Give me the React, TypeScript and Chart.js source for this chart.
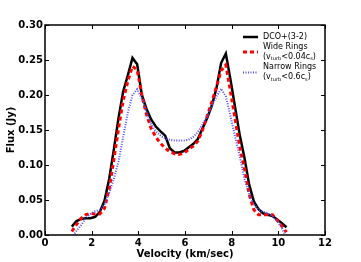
import React, { useEffect, useRef } from "react";
import { Chart, registerables } from "chart.js";

Chart.register(...registerables);

const velocity = [
  1.15, 1.35, 1.55, 1.75, 1.95, 2.15, 2.35, 2.55, 2.75, 2.95, 3.15, 3.35, 3.55, 3.75, 3.95, 4.15,
  4.35, 4.55, 4.75, 4.95, 5.15, 5.35, 5.55, 5.75, 5.95, 6.15, 6.35, 6.55, 6.75, 6.95, 7.15, 7.35,
  7.55, 7.75, 7.95, 8.15, 8.35, 8.55, 8.75, 8.95, 9.15, 9.35, 9.55, 9.75, 9.95, 10.15, 10.35,
];

const dcoFlux = [
  0.012, 0.02, 0.023, 0.024, 0.024, 0.026, 0.033, 0.049, 0.08, 0.122, 0.167, 0.205, 0.228, 0.253, 0.244, 0.2,
  0.18, 0.165, 0.155, 0.148, 0.142, 0.124, 0.118, 0.118, 0.12, 0.125, 0.13, 0.137, 0.152, 0.167, 0.185, 0.21,
  0.246, 0.259, 0.222, 0.182, 0.142, 0.11, 0.072, 0.048, 0.037, 0.031, 0.029, 0.027, 0.022, 0.017, 0.011,
];

const wideFlux = [
  0.005, 0.015, 0.024, 0.029, 0.031, 0.03, 0.03, 0.038, 0.066, 0.108, 0.152, 0.192, 0.22, 0.241, 0.236, 0.2,
  0.172, 0.152, 0.14, 0.131, 0.124, 0.119, 0.116, 0.115, 0.117, 0.122, 0.127, 0.134, 0.15, 0.17, 0.19, 0.212,
  0.235, 0.243, 0.205, 0.165, 0.125, 0.095, 0.058, 0.036, 0.029, 0.029, 0.029, 0.029, 0.021, 0.013, 0.004,
];

const narrowFlux = [
  -0.004, 0.006, 0.014, 0.024, 0.03, 0.034, 0.036, 0.044, 0.06, 0.08, 0.105, 0.14, 0.175, 0.2, 0.208, 0.195,
  0.175, 0.158, 0.148, 0.142, 0.138, 0.136, 0.135, 0.135, 0.135, 0.136, 0.14, 0.147, 0.158, 0.17, 0.185, 0.198,
  0.209, 0.198, 0.17, 0.14, 0.112, 0.08, 0.058, 0.044, 0.036, 0.033, 0.031, 0.027, 0.02, 0.01, -0.004,
];

const xTicks = [0, 2, 4, 6, 8, 10, 12];
const yTicks = [0, 0.05, 0.1, 0.15, 0.2, 0.25, 0.3];

const FONT = "'DejaVu Sans', sans-serif";

type Part = [string, boolean];

function drawRich(ctx: CanvasRenderingContext2D, parts: Part[], x: number, y: number) {
  let cx = x;
  for (const [text, sub] of parts) {
    ctx.font = sub ? `5px ${FONT}` : `8px ${FONT}`;
    ctx.fillText(text, cx, sub ? y + 2.5 : y);
    cx += ctx.measureText(text).width;
  }
}

const framePlugin = {
  id: "frame",
  afterDatasetsDraw(chart: any) {
    const { ctx, chartArea, scales } = chart;
    const { left, right, top, bottom } = chartArea;
    const xs = scales.x;
    const ys = scales.y;
    ctx.save();
    ctx.strokeStyle = "#000";
    ctx.lineWidth = 1.5;
    ctx.strokeRect(left, top, right - left, bottom - top);
    ctx.lineWidth = 1;
    ctx.beginPath();
    for (const v of xTicks) {
      const px = Math.round(xs.getPixelForValue(v)) + 0.5;
      ctx.moveTo(px, bottom);
      ctx.lineTo(px, bottom - 4);
      ctx.moveTo(px, top);
      ctx.lineTo(px, top + 4);
    }
    for (const v of yTicks) {
      const py = Math.round(ys.getPixelForValue(v)) + 0.5;
      ctx.moveTo(left, py);
      ctx.lineTo(left + 4, py);
      ctx.moveTo(right, py);
      ctx.lineTo(right - 4, py);
    }
    ctx.stroke();

    // legend
    const lx0 = right - 82;
    const lx1 = lx0 + 15;
    const tx = lx1 + 5;
    const ly = top + 12;
    ctx.textBaseline = "middle";
    ctx.fillStyle = "#000";

    ctx.lineCap = "butt";
    ctx.strokeStyle = "#000";
    ctx.lineWidth = 2.5;
    ctx.setLineDash([]);
    ctx.beginPath();
    ctx.moveTo(lx0, ly);
    ctx.lineTo(lx1, ly);
    ctx.stroke();
    drawRich(ctx, [["DCO+(3-2)", false]], tx, ly);

    ctx.strokeStyle = "#ff0000";
    ctx.lineWidth = 3;
    ctx.setLineDash([4, 3]);
    ctx.beginPath();
    ctx.moveTo(lx0, ly + 15);
    ctx.lineTo(lx1, ly + 15);
    ctx.stroke();
    drawRich(ctx, [["Wide Rings", false]], tx, ly + 9.5);
    drawRich(ctx, [["(v", false], ["turb", true], ["<0.04c", false], ["s", true], [")", false]], tx, ly + 19.5);

    ctx.strokeStyle = "#4d4dff";
    ctx.lineWidth = 2;
    ctx.setLineDash([1, 1.5]);
    ctx.beginPath();
    ctx.moveTo(lx0, ly + 35.5);
    ctx.lineTo(lx1, ly + 35.5);
    ctx.stroke();
    drawRich(ctx, [["Narrow Rings", false]], tx, ly + 30);
    drawRich(ctx, [["(v", false], ["turb", true], ["<0.6c", false], ["s", true], [")", false]], tx, ly + 40);
    ctx.restore();
  },
};

export default function App() {
  const ref = useRef<HTMLCanvasElement | null>(null);

  useEffect(() => {
    if (!ref.current) return;
    const mk = (arr: number[]) => velocity.map((v, i) => ({ x: v, y: arr[i] }));
    const tickFont = { family: FONT, weight: "bold" as const, size: 10 };
    const chart = new Chart(ref.current, {
      type: "line",
      data: {
        datasets: [
          {
            label: "Narrow Rings",
            data: mk(narrowFlux),
            borderColor: "#4d4dff",
            borderWidth: 2,
            borderDash: [1, 1.5],
            pointRadius: 0,
            tension: 0,
            clip: 0,
          },
          {
            label: "Wide Rings",
            data: mk(wideFlux),
            borderColor: "#ff0000",
            borderWidth: 3,
            borderDash: [4, 3],
            pointRadius: 0,
            tension: 0,
            clip: 0,
          },
          {
            label: "DCO+(3-2)",
            data: mk(dcoFlux),
            borderColor: "#000000",
            borderWidth: 2.5,
            pointRadius: 0,
            tension: 0,
            clip: 0,
          },
        ],
      },
      options: {
        responsive: false,
        animation: false,
        layout: { padding: { top: 25, right: 36, left: 0, bottom: 0 } },
        plugins: { legend: { display: false }, tooltip: { enabled: false } },
        scales: {
          x: {
            type: "linear",
            min: 0,
            max: 12,
            afterBuildTicks: (s: any) => {
              s.ticks = xTicks.map((v) => ({ value: v }));
            },
            afterFit: (s: any) => {
              s.height = 27;
            },
            ticks: {
              font: tickFont,
              color: "#000",
              padding: 2,
              maxRotation: 0,
              autoSkip: false,
              callback: (v: any) => String(v),
            },
            grid: { display: false, drawTicks: false },
            border: { display: false },
            title: {
              display: true,
              text: "Velocity (km/sec)",
              font: tickFont,
              color: "#000",
              padding: { top: 0, bottom: 2 },
            },
          },
          y: {
            type: "linear",
            min: 0,
            max: 0.3,
            afterBuildTicks: (s: any) => {
              s.ticks = yTicks.map((v) => ({ value: v }));
            },
            afterFit: (s: any) => {
              s.width = 45;
            },
            ticks: {
              font: tickFont,
              color: "#000",
              padding: 2,
              autoSkip: false,
              callback: (v: any) => Number(v).toFixed(2),
            },
            grid: { display: false, drawTicks: false },
            border: { display: false },
            title: {
              display: true,
              text: "Flux (Jy)",
              font: tickFont,
              color: "#000",
              padding: { top: 5, bottom: 0 },
            },
          },
        },
      },
      plugins: [framePlugin],
    } as any);
    return () => chart.destroy();
  }, []);

  return (
    <div style={{ position: "fixed", left: 0, top: 0, width: 361, height: 262, background: "#fff" }}>
      <canvas ref={ref} width={361} height={262} style={{ display: "block", width: 361, height: 262 }} />
    </div>
  );
}
